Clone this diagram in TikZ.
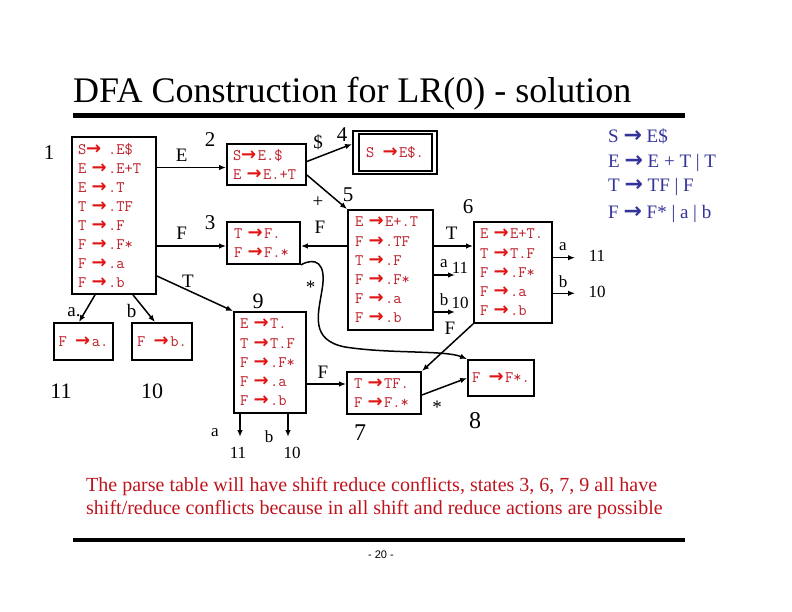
\documentclass[tikz,border=0pt]{standalone}
\usepackage{fontspec}
\setmainfont{Liberation Serif}
\newfontfamily\arrowfont{DejaVu Sans}
\newfontfamily\pagefont{Liberation Sans}
\usetikzlibrary{arrows.meta,calc}
\definecolor{boxred}{RGB}{190,30,40}
\definecolor{arrred}{RGB}{225,20,20}
\definecolor{gblue}{RGB}{51,51,153}
\definecolor{notered}{RGB}{190,20,30}
\newcommand\A{{\color{arrred}\arrowfont\bfseries\fontsize{18}{19}\selectfont →}\kern1.5pt}
\newcommand\Ab{{\arrowfont\bfseries\fontsize{22}{19}\selectfont →}}
\begin{document}
\begin{tikzpicture}[x=1pt,y=-1pt,
 box/.style={draw, line width=1.8pt, inner xsep=6pt, inner ysep=0pt, align=left, text=boxred, font=\fontsize{16}{19.2}\selectfont\ttfamily},
 arr/.style={line width=1.5pt, -{Latex[length=7pt,width=5.5pt]}},
 lbl/.style={font=\fontsize{19}{19}\selectfont, inner sep=0pt},
 num/.style={font=\fontsize{21}{21}\selectfont, inner sep=0pt},
 sml/.style={font=\fontsize{17}{17}\selectfont, inner sep=0pt},
 gram/.style={anchor=base west, inner sep=0pt, text=gblue, font=\fontsize{19}{19}\selectfont},
 note/.style={anchor=base west, inner sep=0pt, text=notered, font=\fontsize{20}{20}\selectfont},
]
\useasboundingbox (0,0) rectangle (792,612);
\fill[white] (0,0) rectangle (792,612);

% title and rules
\node[anchor=base west, inner sep=0pt, font=\fontsize{36}{36}\selectfont] (title) at (73,103) {DFA Construction for LR(0) - solution};
\draw[line width=4.5pt] (73,115.5) -- (685,115.5);
\draw[line width=4pt] (73,540) -- (685,540);
\node[font=\pagefont\fontsize{11}{11}\selectfont, inner sep=0pt] (pg) at (381,555) {- 20 -};

% grammar
\node[gram] (g1) at (608,143) {S \Ab{} E\$};
\node[gram] (g2) at (608,168) {E \Ab{} E + T | T};
\node[gram] (g3) at (608,192) {T \Ab{} TF | F};
\node[gram] (g4) at (608,219) {F \Ab{} F* | a | b};

% state boxes
\node[box, text width=72pt, minimum height=157pt, font=\fontsize{16}{19}\selectfont\ttfamily] (b1) at (114,215.5) {S\A{} .E\$\\E \A.E+T\\E \A.T\\T \A.TF\\T \A.F\\F \A.F*\\F \A.a\\F \A.b};
\node[box, inner xsep=6pt, text width=67pt, minimum height=41pt] (b2) at (266.5,164.5) {S\A E.\$\\E \A E.+T};
\node[box, inner xsep=7pt, text width=59pt, minimum height=42pt] (b3) at (263.5,243) {T \A F.\\F \A F.*};
\node[box, align=center, minimum width=84pt, minimum height=43pt, inner xsep=0pt] (b4) at (395,152.5) {S \A E\$.};
\draw[line width=1.8pt] ([shift={(7,4)}]b4.north west) rectangle ([shift={(-6,-4)}]b4.south east);
\node[box, inner xsep=7pt, text width=71pt, minimum height=120pt] (b5) at (390.5,270) {E \A E+.T\\F \A.TF\\T \A.F\\F \A.F*\\F \A.a\\F \A.b};
\node[box, text width=66pt, minimum height=101pt] (b6) at (513,272.5) {E \A E+T.\\T \A T.F\\F \A.F*\\F \A.a\\F \A.b};
\node[box, inner xsep=7pt, text width=60pt, minimum height=42pt] (b7) at (384,393) {T \A TF.\\F \A F.*};
\node[box, align=center, minimum width=66pt, minimum height=36pt, inner xsep=0pt] (b8) at (501,378) {F \A F*.};
\node[box, text width=60pt, minimum height=101pt] (b9) at (270,362.5) {E \A T.\\T \A T.F\\F \A.F*\\F \A.a\\F \A.b};
\node[box, align=center, minimum width=59pt, minimum height=37pt, inner xsep=0pt] (ba) at (83.5,341.5) {F \A a.};
\node[box, align=center, minimum width=60pt, minimum height=37pt, inner xsep=0pt] (bb) at (162,341.5) {F \A b.};

% state numbers
\node[num] (n1) at (49,153) {1};
\node[num] (n2) at (210,140) {2};
\node[num] (n3) at (210,223) {3};
\node[num] (n4) at (342,135) {4};
\node[num] (n5) at (348,195) {5};
\node[num] (n6) at (468,207) {6};
\node[num, font=\fontsize{24}{24}\selectfont] (n7) at (360,433) {7};
\node[num, font=\fontsize{24}{24}\selectfont] (n8) at (475,421) {8};
\node[num, font=\fontsize{22}{22}\selectfont] (n9) at (258,301) {9};
\node[num, font=\fontsize{22}{22}\selectfont] (n11) at (61,391) {11};
\node[num, font=\fontsize{22}{22}\selectfont] (n10) at (152,391) {10};

% connectors
\coordinate (b2in) at ([yshift=-3pt]b2.west);
\draw[arr] (b1.east |- b2in) -- (b2in);
\coordinate (b3in) at ([yshift=-3pt]b3.west);
\draw[arr] (b1.east |- b3in) -- (b3in);
\draw[arr] ([yshift=-60.5pt]b1.east) -- (b9.north west);
\draw[arr] ([xshift=-19pt]b1.south) -- ([xshift=-4.5pt]ba.north);
\draw[arr] ([xshift=19pt]b1.south) -- ([xshift=-7pt]bb.north);
\draw[arr] ([yshift=3pt]b2.east) -- ([yshift=8.5pt]b4.west);
\draw[arr] ([yshift=-10.5pt]b2.east) -- (b5.north west);
\coordinate (b3out) at ([yshift=-3pt]b3.east);
\draw[arr] (b5.west |- b3out) -- (b3out);
\coordinate (b6in) at ([yshift=26.5pt]b6.west);
\draw[arr] (b5.east |- b6in) -- (b6in);
\coordinate (e5a) at (455,275);
\draw[arr] (b5.east |- e5a) -- (e5a);
\coordinate (e5b) at (455,312);
\draw[arr] (b5.east |- e5b) -- (e5b);
\draw[arr] (b6.south west) -- (b7.north east);
\coordinate (b7in) at ([yshift=9pt]b7.west);
\draw[arr] (b9.east |- b7in) -- (b7in);
\draw[arr] ([yshift=-2pt]b7.east) -- (b8.west);
\coordinate (e6a) at (575,257.7);
\draw[arr] (b6.east |- e6a) -- (e6a);
\coordinate (e6b) at (575,293.3);
\draw[arr] (b6.east |- e6b) -- (e6b);
\coordinate (e9a) at (240,437);
\draw[arr] (b9.south -| e9a) -- (e9a);
\coordinate (e9b) at (288,437);
\draw[arr] (b9.south -| e9b) -- (e9b);
\draw[arr] (b3.south east) .. controls (315,257) and (327,262) .. (322,290)
  .. controls (318,315) and (310,340) .. (345,347)
  .. controls (390,354) and (445,350) .. (b8.north west);

% edge labels
\node[lbl] (lE) at (181.7,155) {E};
\node[lbl] (lF) at (181.7,233) {F};
\node[lbl] (lT) at (188,281) {T};
\node[lbl] (la) at (74,312) {a.};
\node[lbl] (lb) at (131.7,311) {b};
\node[lbl] (ldol) at (318,142) {\$};
\node[lbl] (lplus) at (318,202) {+};
\node[lbl] (lF5) at (320,227) {F};
\node[lbl] (lst3) at (310.7,287) {*};
\node[lbl] (lT5) at (451.7,233) {T};
\node[sml] (la5) at (444,264) {a};
\node[sml] (l11a) at (460,268) {11};
\node[sml] (lb5) at (444,300) {b};
\node[sml] (l10a) at (460,303.3) {10};
\node[lbl] (lF6) at (450,328) {F};
\node[sml] (la6) at (563,247) {a};
\node[sml] (l11b) at (597,256) {11};
\node[sml] (lb6) at (563,282) {b};
\node[sml] (l10b) at (597,292) {10};
\node[lbl] (lF9) at (323,372) {F};
\node[sml] (la9) at (215,433) {a};
\node[sml] (l11c) at (238,453) {11};
\node[sml] (lb9) at (269,437) {b};
\node[sml] (l10c) at (292,453) {10};
\node[lbl] (lst7) at (437,407) {*};

% note
\node[note] (t1) at (86,491) {The parse table will have shift reduce conflicts, states 3, 6, 7, 9 all have};
\node[note] (t2) at (86,514) {shift/reduce conflicts because in all shift and reduce actions are possible};
\end{tikzpicture}
\end{document}
